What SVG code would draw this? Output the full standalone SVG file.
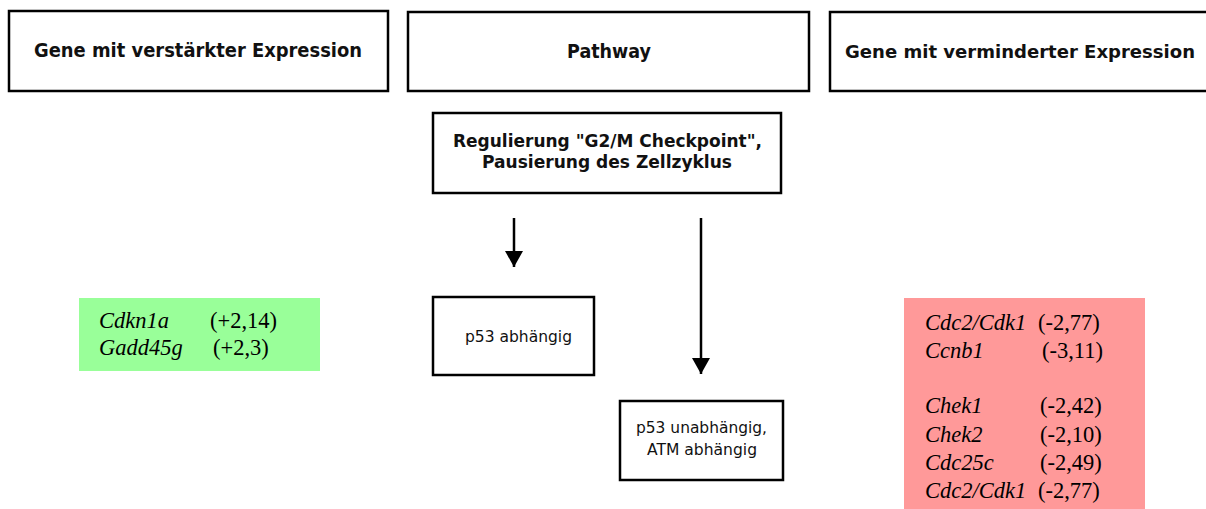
<svg xmlns="http://www.w3.org/2000/svg" width="1206" height="509" viewBox="0 0 1206 509">
<defs>
<style>
.box{fill:#fff;stroke:#000;stroke-width:2.5}
.hd{font-family:"DejaVu Sans",Verdana,sans-serif;font-weight:bold;font-size:19px;fill:#111;text-anchor:middle}
.rg{font-size:18px}
.nt{font-family:"DejaVu Sans",Verdana,sans-serif;font-size:16px;fill:#111;text-anchor:middle}
.g{font-family:"Liberation Serif","Times New Roman",serif;font-size:22.5px;fill:#000}
.i{font-style:italic}
.ar{stroke:#000;stroke-width:2.5;fill:none}
</style>
<marker id="ah" viewBox="0 0 16 18" refX="16" refY="9" markerWidth="16" markerHeight="18" markerUnits="userSpaceOnUse" orient="auto">
<path d="M0,0 L16,9 L0,18 z" fill="#000"/>
</marker>
</defs>
<rect width="1206" height="509" fill="#fff"/>
<g id="hdr-up"><rect class="box" x="9" y="11" width="379" height="80"/><text class="hd" x="198" y="57" textLength="328" lengthAdjust="spacingAndGlyphs">Gene mit verstärkter Expression</text></g>
<g id="hdr-path"><rect class="box" x="408" y="12" width="401" height="79"/><text class="hd" x="609" y="58" textLength="84" lengthAdjust="spacingAndGlyphs">Pathway</text></g>
<g id="hdr-down"><path class="box" d="M1206,12 H830 V91 H1206"/><text class="hd" x="1020" y="58" style="font-size:18.5px" textLength="350" lengthAdjust="spacingAndGlyphs">Gene mit verminderter Expression</text></g>
<g id="regulierung"><rect class="box" x="433" y="113" width="348" height="80"/><text class="hd rg" x="607.5" y="147" textLength="309" lengthAdjust="spacingAndGlyphs">Regulierung "G2/M Checkpoint",</text><text class="hd rg" x="607" y="168" textLength="250" lengthAdjust="spacingAndGlyphs">Pausierung des Zellzyklus</text></g>
<g id="p53dep"><rect class="box" x="433" y="297" width="161" height="78"/><text class="nt" x="518.5" y="342" textLength="107" lengthAdjust="spacingAndGlyphs">p53 abhängig</text></g>
<g id="p53indep"><rect class="box" x="620" y="401" width="163" height="79"/><text class="nt" x="701.5" y="433" textLength="131" lengthAdjust="spacingAndGlyphs">p53 unabhängig,</text><text class="nt" x="702" y="455" textLength="110" lengthAdjust="spacingAndGlyphs">ATM abhängig</text></g>
<g id="up-genes"><rect x="79" y="298" width="241" height="73" fill="#99ff99"/>
<text class="g" y="328"><tspan class="i" x="99">Cdkn1a</tspan><tspan x="210">(+2,14)</tspan></text>
<text class="g" y="355"><tspan class="i" x="99">Gadd45g</tspan><tspan x="213">(+2,3)</tspan></text></g>
<g id="down-genes"><rect x="904" y="298" width="241" height="211" fill="#ff9999"/>
<text class="g" y="330"><tspan class="i" x="925">Cdc2/Cdk1</tspan><tspan x="1038">(-2,77)</tspan></text>
<text class="g" y="358"><tspan class="i" x="925">Ccnb1</tspan><tspan x="1042">(-3,11)</tspan></text>
<text class="g" y="413"><tspan class="i" x="925">Chek1</tspan><tspan x="1040">(-2,42)</tspan></text>
<text class="g" y="442"><tspan class="i" x="925">Chek2</tspan><tspan x="1040">(-2,10)</tspan></text>
<text class="g" y="470"><tspan class="i" x="925">Cdc25c</tspan><tspan x="1040">(-2,49)</tspan></text>
<text class="g" y="498"><tspan class="i" x="925">Cdc2/Cdk1</tspan><tspan x="1038">(-2,77)</tspan></text></g>
<g id="connectors">
<line class="ar" x1="514" y1="218" x2="514" y2="267" marker-end="url(#ah)"/>
<line class="ar" x1="701" y1="218" x2="701" y2="374" marker-end="url(#ah)"/>
</g>
</svg>
